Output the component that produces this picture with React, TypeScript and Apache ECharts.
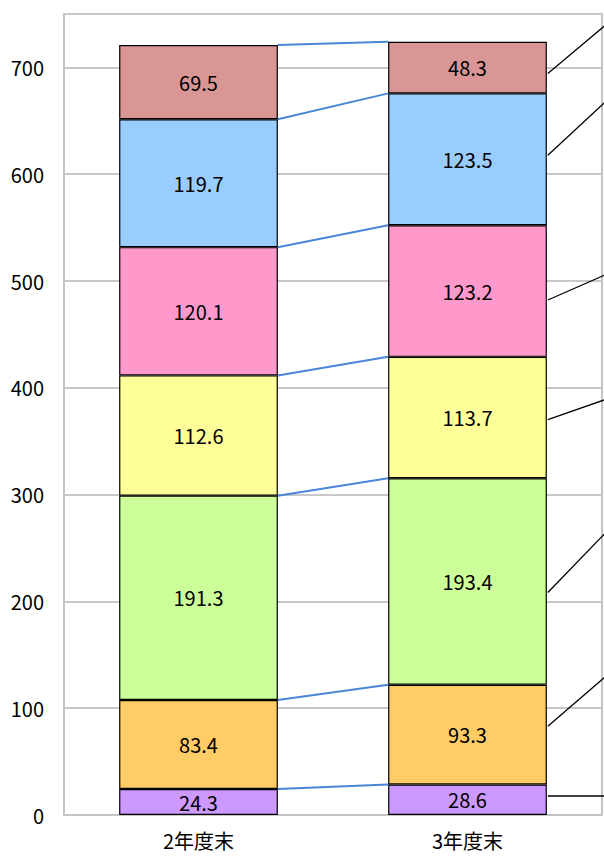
import React, { useEffect, useRef } from "react";
import * as echarts from "echarts";

const categories = ["2年度末", "3年度末"];
const seriesNames = ["s1", "s2", "s3", "s4", "s5", "s6", "s7"];
const values2 = [24.3, 83.4, 191.3, 112.6, 120.1, 119.7, 69.5];
const values3 = [28.6, 93.3, 193.4, 113.7, 123.2, 123.5, 48.3];
const seriesColors = ["#CC99FF", "#FFCC66", "#CCFF99", "#FFFF99", "#FF99CC", "#99CCFF", "#D99694"];
// leader line anchors (value units) for right bar: start and end levels
const leaderStart = [17.8, 83.2, 208.4, 370.1, 482.2, 617.8, 694.4];
const leaderEnd = [17.8, 129, 263.6, 388.8, 505.6, 667.3, 739];
const yTicks = { min: 0, max: 750, interval: 100 };

const FONT = "'Noto Sans CJK JP', 'Noto Sans', sans-serif";
const BAR_RATIO = 0.59;

function cumulative(vals: number[]) {
  const out: number[] = [];
  let s = 0;
  for (const v of vals) {
    s += v;
    out.push(s);
  }
  return out;
}

export default function App() {
  const ref = useRef<HTMLDivElement>(null);
  useEffect(() => {
    if (!ref.current) return;
    const chart = echarts.init(ref.current, undefined, { renderer: "svg" });
    const tops2 = cumulative(values2);
    const tops3 = cumulative(values3);

    const barSeries = seriesNames.map((name, i) => ({
      name,
      type: "bar",
      stack: "total",
      barWidth: BAR_RATIO * 100 + "%",
      data: [values2[i], values3[i]],
      z: 3,
      itemStyle: { color: seriesColors[i], borderColor: "#000", borderWidth: 1.2 },
      label: {
        show: true,
        position: "inside",
        color: "#000",
        fontSize: 20,
        fontFamily: FONT,
        formatter: (p: any) => Number(p.value).toFixed(1),
      },
    }));

    const connectorSeries = {
      type: "custom",
      z: 2,
      clip: false,
      silent: true,
      data: tops2.map((t, i) => [0, t, tops3[i]]),
      renderItem: (params: any, api: any) => {
        const a = api.coord([0, api.value(1)]);
        const b = api.coord([1, api.value(2)]);
        const hw = (api.size([1, 0])[0] * BAR_RATIO) / 2;
        return {
          type: "line",
          shape: { x1: a[0] + hw, y1: a[1], x2: b[0] - hw, y2: b[1] },
          style: { stroke: "#4A86D8", lineWidth: 2 },
        };
      },
    };

    const leaderSeries = {
      type: "custom",
      z: 2,
      clip: false,
      silent: true,
      data: leaderStart.map((s, i) => [1, s, leaderEnd[i]]),
      renderItem: (params: any, api: any) => {
        const a = api.coord([1, api.value(1)]);
        const b = api.coord([1, api.value(2)]);
        const hw = (api.size([1, 0])[0] * BAR_RATIO) / 2;
        return {
          type: "line",
          shape: { x1: a[0] + hw + 1, y1: a[1], x2: a[0] + hw + 58, y2: b[1] },
          style: { stroke: "#000", lineWidth: 1.3 },
        };
      },
    };

    chart.setOption({
      animation: false,
      backgroundColor: "#fff",
      grid: {
        left: 64,
        right: 2,
        top: 14,
        bottom: 41,
        show: true,
        borderColor: "#c4c4c4",
        borderWidth: 2,
      },
      xAxis: {
        type: "category",
        data: categories,
        axisTick: { show: false },
        axisLine: { show: true, lineStyle: { color: "#c4c4c4", width: 2 } },
        axisLabel: { color: "#000", fontSize: 20, fontFamily: FONT, margin: 15 },
      },
      yAxis: {
        type: "value",
        min: yTicks.min,
        max: yTicks.max,
        interval: yTicks.interval,
        axisLine: { show: true, lineStyle: { color: "#c4c4c4", width: 2 } },
        axisTick: { show: false },
        splitLine: { lineStyle: { color: "#c8c8c8", width: 2 } },
        axisLabel: {
          color: "#000",
          fontSize: 20,
          fontFamily: FONT,
          margin: 20,
          showMaxLabel: false,
        },
      },
      series: [...barSeries, connectorSeries, leaderSeries],
    });
    return () => chart.dispose();
  }, []);
  return (
    <div
      ref={ref}
      style={{ position: "absolute", left: 0, top: 0, width: 604, height: 856 }}
    />
  );
}
